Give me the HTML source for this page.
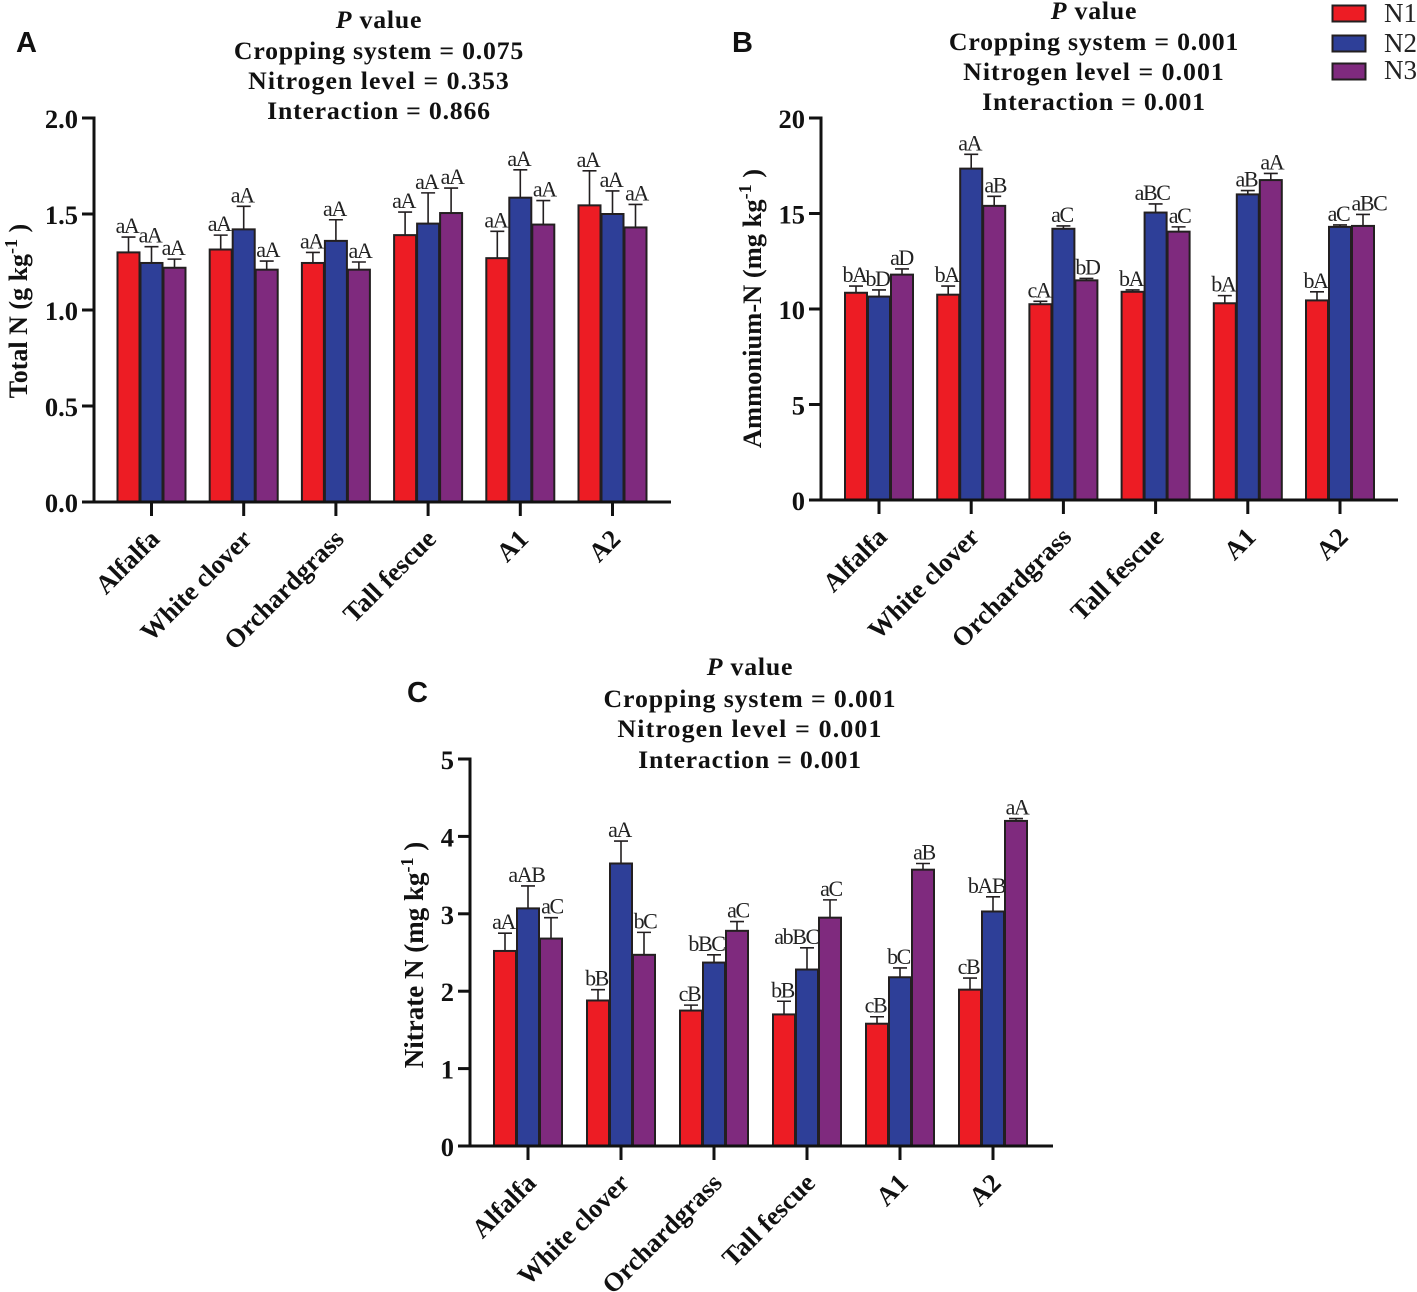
<!DOCTYPE html>
<html lang="en">
<head>
<meta charset="utf-8">
<title>Soil nitrogen by cropping system and nitrogen level</title>
<style>
html,body{margin:0;padding:0;background:#fff;}
svg{display:block;}
text{font-family:"Liberation Serif",serif;fill:#111;}
.bold{font-weight:bold;}
.panel-letter{font-family:"Liberation Sans",sans-serif;font-weight:bold;font-size:29px;}
.title{font-weight:bold;font-size:25.8px;letter-spacing:.78px;text-anchor:middle;}
.tick{font-weight:bold;font-size:26.5px;text-anchor:end;}
.cat{font-weight:bold;font-size:26.4px;text-anchor:end;}
.ylab{font-weight:bold;text-anchor:middle;}
.sig{font-size:22px;letter-spacing:-1.4px;text-anchor:middle;fill:#222;}
.leg{font-size:27px;fill:#222;}
</style>
</head>
<body>
<svg id="chart" xmlns="http://www.w3.org/2000/svg" width="1417" height="1292" viewBox="0 0 1417 1292">
  <rect x="0" y="0" width="1417" height="1292" fill="#fff"/>
  <g>
    <rect x="1332.500" y="5.500" width="33" height="16" fill="#ed1c24" stroke="#231f20" stroke-width="2"/>
    <text class="leg" x="1384" y="22">N1</text>
    <rect x="1332.500" y="35.500" width="33" height="16" fill="#2e3f98" stroke="#231f20" stroke-width="2"/>
    <text class="leg" x="1384" y="52">N2</text>
    <rect x="1332.500" y="63.500" width="33" height="16" fill="#7f2a7e" stroke="#231f20" stroke-width="2"/>
    <text class="leg" x="1384" y="79">N3</text>
  </g>
  <text class="panel-letter" x="16" y="52">A</text>
  <text class="panel-letter" x="732" y="52">B</text>
  <text class="panel-letter" x="407" y="702">C</text>

  <g>
    <text class="title" x="379" y="28"><tspan font-style="italic">P</tspan> value</text>
    <text class="title" x="379" y="59">Cropping system = 0.075</text>
    <text class="title" style="letter-spacing:1.02px" x="379" y="89">Nitrogen level = 0.353</text>
    <text class="title" x="379" y="119">Interaction = 0.866</text>
  </g>
  <g>
    <text class="title" x="1094" y="19"><tspan font-style="italic">P</tspan> value</text>
    <text class="title" x="1094" y="50">Cropping system = 0.001</text>
    <text class="title" style="letter-spacing:1.02px" x="1094" y="80">Nitrogen level = 0.001</text>
    <text class="title" x="1094" y="110">Interaction = 0.001</text>
  </g>
  <g>
    <text class="title" x="750" y="675"><tspan font-style="italic">P</tspan> value</text>
    <text class="title" style="letter-spacing:.9px" x="750" y="707">Cropping system = 0.001</text>
    <text class="title" style="letter-spacing:1.18px" x="750" y="737">Nitrogen level = 0.001</text>
    <text class="title" x="750" y="768">Interaction = 0.001</text>
  </g>

  <text class="ylab" font-size="26" transform="translate(27 311) rotate(-90)">Total N (g kg<tspan font-size="18" dy="-10">-1</tspan><tspan dy="10"> )</tspan></text>
  <text class="ylab" font-size="26.5" transform="translate(761 308.500) rotate(-90)">Ammonium-N (mg kg<tspan font-size="18" dy="-10">-1</tspan><tspan dy="10"> )</tspan></text>
  <text class="ylab" font-size="27" transform="translate(423 955) rotate(-90)">Nitrate N (mg kg<tspan font-size="18" dy="-10">-1</tspan><tspan dy="10"> )</tspan></text>
</svg>
<script>
// Shared categories and series
const categories = ["Alfalfa", "White clover", "Orchardgrass", "Tall fescue", "A1", "A2"];
const seriesNames = ["N1", "N2", "N3"];

// Panel A: Total N
const aTicks = ["0.0", "0.5", "1.0", "1.5", "2.0"];
const aN1 = [1.30, 1.315, 1.245, 1.39, 1.27, 1.545];
const aN2 = [1.245, 1.42, 1.36, 1.45, 1.585, 1.50];
const aN3 = [1.22, 1.21, 1.21, 1.505, 1.445, 1.43];
const aN1Err = [0.08, 0.075, 0.055, 0.12, 0.14, 0.18];
const aN2Err = [0.085, 0.12, 0.11, 0.16, 0.145, 0.12];
const aN3Err = [0.045, 0.045, 0.04, 0.13, 0.125, 0.12];
const aN1Sig = ["aA", "aA", "aA", "aA", "aA", "aA"];
const aN2Sig = ["aA", "aA", "aA", "aA", "aA", "aA"];
const aN3Sig = ["aA", "aA", "aA", "aA", "aA", "aA"];

// Panel B: Ammonium-N
const bTicks = ["0", "5", "10", "15", "20"];
const bN1 = [10.85, 10.75, 10.25, 10.9, 10.3, 10.45];
const bN2 = [10.65, 17.35, 14.2, 15.05, 16.0, 14.3];
const bN3 = [11.8, 15.4, 11.5, 14.05, 16.75, 14.35];
const bN1Err = [0.35, 0.45, 0.15, 0.1, 0.4, 0.45];
const bN2Err = [0.35, 0.75, 0.15, 0.45, 0.2, 0.1];
const bN3Err = [0.3, 0.5, 0.1, 0.25, 0.35, 0.6];
const bN1Sig = ["bA", "bA", "cA", "bA", "bA", "bA"];
const bN2Sig = ["bD", "aA", "aC", "aBC", "aB", "aC"];
const bN3Sig = ["aD", "aB", "bD", "aC", "aA", "aBC"];

// Panel C: Nitrate N
const cTicks = ["0", "1", "2", "3", "4", "5"];
const cN1 = [2.52, 1.88, 1.75, 1.70, 1.58, 2.02];
const cN2 = [3.07, 3.65, 2.37, 2.28, 2.18, 3.03];
const cN3 = [2.68, 2.47, 2.78, 2.95, 3.57, 4.20];
const cN1Err = [0.23, 0.14, 0.07, 0.17, 0.09, 0.15];
const cN2Err = [0.29, 0.29, 0.10, 0.28, 0.12, 0.19];
const cN3Err = [0.27, 0.29, 0.12, 0.23, 0.08, 0.03];
const cN1Sig = ["aA", "bB", "cB", "bB", "cB", "cB"];
const cN2Sig = ["aAB", "aA", "bBC", "abBC", "bC", "bAB"];
const cN3Sig = ["aC", "bC", "aC", "aC", "aB", "aA"];

const SVG_NS = "http://www.w3.org/2000/svg";
const svgRoot = document.getElementById("chart");
const seriesColors = ["#ed1c24", "#2e3f98", "#7f2a7e"];
const outline = "#231f20";

function make(parent, tag, attrs, textValue) {
  const node = document.createElementNS(SVG_NS, tag);
  for (const key in attrs) node.setAttribute(key, attrs[key]);
  if (textValue !== undefined) node.textContent = textValue;
  parent.appendChild(node);
  return node;
}

function drawPanel(cfg) {
  const yScale = function (v) { return cfg.y0 - (v / cfg.yMax) * (cfg.y0 - cfg.yTop); };
  const xScale = function (i) { return cfg.firstCenter + i * cfg.step; };
  const barW = 23;

  const group = make(svgRoot, "g", {});
  
  

  categories.forEach(function (cat, c) {
    cfg.values.forEach(function (vals, s) {
      const cx = xScale(c) + (s - 1) * barW;
      const top = yScale(vals[c]);
      const errTop = yScale(vals[c] + cfg.errs[s][c]);

      const err = make(group, "path", {
        d: "M" + cx + " " + top + "V" + errTop + "M" + (cx - 7) + " " + errTop + "H" + (cx + 7),
        fill: "none", stroke: outline, "stroke-width": 1.6
      });
      
      

      const bar = make(group, "rect", {
        x: cx - barW / 2 + 0.5, y: top, width: barW - 1, height: cfg.y0 - top,
        fill: seriesColors[s], stroke: outline, "stroke-width": 2
      });
      
      

      const seriesShift = s === 2 ? 2.5 : 0;
      const nudge = (cfg.nudges[s + "-" + c] || 0) + seriesShift - 1.5;
      const sig = make(group, "text", { class: "sig", x: cx + nudge, y: errTop - 4 }, cfg.sigs[s][c]);
      
      
    });

    const tick = make(group, "line", {
      x1: xScale(c), x2: xScale(c), y1: cfg.y0, y2: cfg.y0 + 14, stroke: "#111", "stroke-width": 3
    });
    
    

    const lx = xScale(c) + 9.5, ly = cfg.y0 + 38.5;
    const label = make(group, "text", {
      class: "cat", x: lx, y: ly, transform: "rotate(-45 " + lx + " " + ly + ")"
    }, cat);
    
    
  });

  const yAxis = make(group, "line", {
    x1: cfg.axisX, x2: cfg.axisX, y1: cfg.yTop - 1.5, y2: cfg.y0 + 1.5, stroke: "#111", "stroke-width": 3
  });
  
  

  const xAxis = make(group, "line", {
    x1: cfg.axisX - 12, x2: cfg.axisEnd, y1: cfg.y0, y2: cfg.y0, stroke: "#111", "stroke-width": 3
  });
  
  

  cfg.ticks.forEach(function (t) {
    const ty = yScale(parseFloat(t));
    const yTick = make(group, "line", {
      x1: cfg.axisX - 12, x2: cfg.axisX, y1: ty, y2: ty, stroke: "#111", "stroke-width": 3
    });
    
    

    const yLabel = make(group, "text", { class: "tick", x: cfg.axisX - 16, y: ty + 10 }, t);
    
    
  });
}

drawPanel({
  id: "a", axisX: 94, axisEnd: 671, y0: 502, yTop: 118, yMax: 2, firstCenter: 151.5, step: 92.2,
  ticks: aTicks, values: [aN1, aN2, aN3], errs: [aN1Err, aN2Err, aN3Err], sigs: [aN1Sig, aN2Sig, aN3Sig],
  nudges: { "2-0": -2.5 }
});
drawPanel({
  id: "b", axisX: 821, axisEnd: 1398, y0: 500, yTop: 118, yMax: 20, firstCenter: 879, step: 92.2,
  ticks: bTicks, values: [bN1, bN2, bN3], errs: [bN1Err, bN2Err, bN3Err], sigs: [bN1Sig, bN2Sig, bN3Sig],
  nudges: { "1-3": -2, "2-0": -1.5, "2-5": 5 }
});
drawPanel({
  id: "c", axisX: 470, axisEnd: 1053, y0: 1146, yTop: 759, yMax: 5, firstCenter: 528, step: 93,
  ticks: cTicks, values: [cN1, cN2, cN3], errs: [cN1Err, cN2Err, cN3Err], sigs: [cN1Sig, cN2Sig, cN3Sig],
  nudges: { "1-2": -6, "1-3": -9, "1-5": -5 }
});
</script>
</body>
</html>
